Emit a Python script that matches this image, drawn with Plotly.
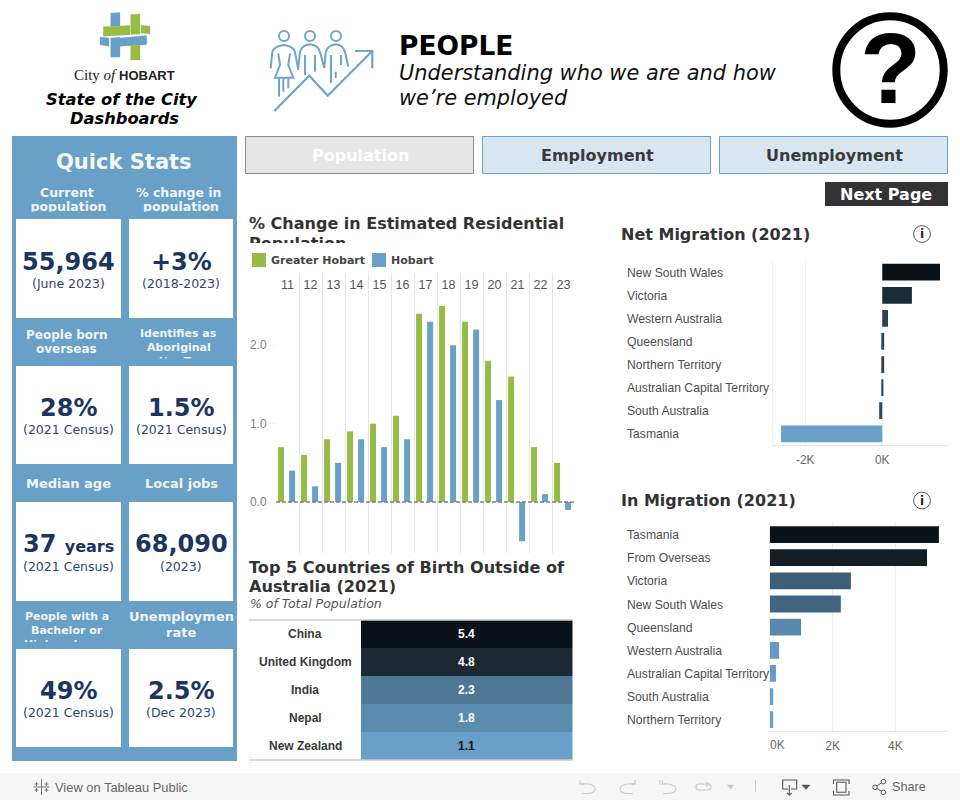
import re
import plotly.graph_objects as go

# ---------- data ----------
years = [11, 12, 13, 14, 15, 16, 17, 18, 19, 20, 21, 22, 23]
greater_hobart = [0.7, 0.6, 0.8, 0.9, 1.0, 1.1, 2.4, 2.5, 2.3, 1.8, 1.6, 0.7, 0.5]
hobart = [0.4, 0.2, 0.5, 0.8, 0.7, 0.8, 2.3, 2.0, 2.2, 1.3, -0.5, 0.1, -0.1]

birth_countries = ["China", "United Kingdom", "India", "Nepal", "New Zealand"]
birth_share = [5.4, 4.8, 2.3, 1.8, 1.1]

net_states = ["New South Wales", "Victoria", "Western Australia", "Queensland", "Northern Territory",
              "Australian Capital Territory", "South Australia", "Tasmania"]
net_values = [1500, 770, 150, 50, 50, 30, -80, -2630]

in_states = ["Tasmania", "From Overseas", "Victoria", "New South Wales", "Queensland", "Western Australia",
             "Australian Capital Territory", "South Australia", "Northern Territory"]
in_values = [5390, 5010, 2580, 2260, 990, 290, 190, 100, 100]

stat_values = ["55,964", "+3%", "28%", "1.5%", "37", "68,090", "49%", "2.5%"]
stat_notes = ["(June 2023)", "(2018-2023)", "(2021 Census)", "(2021 Census)",
              "(2021 Census)", "(2023)", "(2021 Census)", "(Dec 2023)"]

# ---------- style ----------
W, H = 960, 800
BLUE = "#68a0c8"
GREEN = "#96bc45"
DARK = "#0b131a"
NAVY = "#1a3560"
TITLE = "#333333"
DV = "DejaVu Sans"
LS = "Liberation Sans"

shapes = []
ann = []


def px(x):
    return x / W


def py(y):
    return 1 - y / H


def rect(x0, y0, x1, y1, fill=None, line=None, lw=0, layer="below"):
    shapes.append(dict(type="rect", xref="paper", yref="paper", x0=px(x0), x1=px(x1), y0=py(y0), y1=py(y1),
                       fillcolor=fill or "rgba(0,0,0,0)", layer=layer,
                       line=dict(color=line or "rgba(0,0,0,0)", width=lw)))


def circle(cx, cy, r, fill=None, line=None, lw=1, layer="above"):
    shapes.append(dict(type="circle", xref="paper", yref="paper", x0=px(cx - r), x1=px(cx + r),
                       y0=py(cy + r), y1=py(cy - r), layer=layer,
                       fillcolor=fill or "rgba(0,0,0,0)", line=dict(color=line or "rgba(0,0,0,0)", width=lw)))


def path(d, color, lw=1.5, fill=None, layer="above"):
    i = [0]

    def conv(m):
        v = float(m.group(0))
        r = px(v) if i[0] % 2 == 0 else py(v)
        i[0] += 1
        return f"{r:.5f}"

    shapes.append(dict(type="path", xref="paper", yref="paper", path=re.sub(r"-?\d+\.?\d*", conv, d), layer=layer,
                       fillcolor=fill or "rgba(0,0,0,0)", line=dict(color=color, width=lw)))


def text(x, y, s, size, color="#000", font=DV, bold=False, italic=False, anchor="center", **kw):
    """One line of text placed by its pixel position."""
    if bold:
        s = f"<b>{s}</b>"
    if italic:
        s = f"<i>{s}</i>"
    d = dict(xref="paper", yref="paper", x=px(x), y=py(y), text=s, showarrow=False, xanchor=anchor,
             yanchor="middle", borderpad=0, borderwidth=0, font=dict(family=font, size=size, color=color))
    d.update(kw)
    ann.append(d)


def clipped(x_left, width, y_top, height, s, size, color="#fff", align="center"):
    """A line of text cut off by its box, as the source dashboard does."""
    ann.append(dict(xref="paper", yref="paper", x=px(x_left), y=py(y_top), text=f"<b>{s}</b>", showarrow=False,
                    xanchor="left", yanchor="top", width=width, height=height, valign="top", align=align,
                    borderpad=0, borderwidth=0, font=dict(family=DV, size=size, color=color)))


# ---------- header: logo ----------
for d, c in [
    ("M110.7 13 L120 12.5 L120 26 L110.7 26.3 Z", BLUE),
    ("M130.7 14.5 L140 14 L140 34 L130.7 34.5 Z", GREEN),
    ("M103.3 26.8 L130 25.5 L130 34.7 L103.3 36.3 Z", GREEN),
    ("M141 25.3 L150 26.3 L150 34 L141 33 Z", GREEN),
    ("M100 37 L109 38 L109 46.3 L100 44.7 Z", BLUE),
    ("M120 38 L146.7 35.5 L146.7 44.7 L120 46.3 Z", BLUE),
    ("M110.7 38 L120 37.3 L120 57 L110.7 57.3 Z", BLUE),
    ("M130.7 45.5 L140 44.9 L140 60 L130.7 60 Z", GREEN),
]:
    path(d, c, 0.3, fill=c)
ann.append(dict(xref="paper", yref="paper", x=px(124.5), y=py(75), showarrow=False, xanchor="center", yanchor="middle",
                borderpad=0,
                text='<span style="font-family:Liberation Serif;font-size:15px">City</span>'
                     '<span style="font-family:Liberation Serif;font-size:15px"><i> of </i></span>'
                     '<b>HOBART</b>',
                font=dict(family=LS, size=13, color="#222")))
text(121.5, 99.5, "State of the City", 16.3, bold=True, italic=True)
text(124, 118.5, "Dashboards", 16.3, bold=True, italic=True)

# ---------- header: people icon ----------
IC = "#6ea5cb"
for cx in (284, 310, 336):
    circle(cx, 36, 5, line=IC, lw=2)
path("M274.3 111 L309.3 75.7 L327.7 95.7 L372.3 51", IC, 2.2)
path("M355 51 L372.3 51 L372.3 68.3", IC, 2.2)
path("M270.7 68.3 L272.3 52 Q274 46 284 45 Q293 46 295 52 L298.3 70", IC, 2)
path("M278.3 53.3 L280 65 L275 77.7 L293.3 77.7 L288.3 65 L290 53.3", IC, 2)
path("M279 78.3 L279 96.7", IC, 2)
path("M283.3 78.3 L283.3 91.7", IC, 2)
path("M288.3 78.3 L288.3 88.3", IC, 2)
path("M298.3 68 L300 52 Q302 45 310 44.3 Q318 45 320 52 L324.3 68", IC, 2)
path("M305 55 L305 75", IC, 2)
path("M315 55 L315 71.7", IC, 2)
path("M324.3 68 L325.7 52 Q328 45 336 44.3 Q343 45 345 52 L348.3 66.7", IC, 2)
path("M331 55 L331 83", IC, 2)
path("M335.7 71.7 L335.7 78", IC, 2)
path("M341 55 L341 65", IC, 2)

text(398.5, 45, "PEOPLE", 26.5, bold=True, anchor="left")
text(398.5, 73, "Understanding who we are and how", 20.9, color="#111", italic=True, anchor="left")
text(398.5, 98, "we’re employed", 20.9, color="#111", italic=True, anchor="left")

# question mark
circle(890, 70, 53.7, line="#000", lw=8)
text(890, 68, "?", 100, font=LS, bold=True)

# ---------- quick stats ----------
rect(12, 136, 237, 761, fill=BLUE)
cols = [(16, 121), (129, 233)]
rows = [(219, 318), (366, 464), (502, 601), (649, 747)]
for r, (y0, y1) in enumerate(rows):
    for c, (x0, x1) in enumerate(cols):
        rect(x0, y0, x1, y1, fill="#fff")
text(124, 161.7, "Quick Stats", 21, color="#f4f8fb", bold=True)

HC = "#f0f5f9"
text(66.5, 192.7, "Current", 12.5, color=HC, bold=True)
clipped(16, 105, 199, 12.7, "population", 12.5, color=HC)
text(178.5, 192.7, "% change in", 12.5, color=HC, bold=True)
clipped(129, 104, 199, 12.7, "population", 12.5, color=HC)
text(66.5, 335, "People born", 12, color=HC, bold=True)
text(66.5, 349, "overseas", 12, color=HC, bold=True)
text(178.5, 333, "Identifies as", 11, color=HC, bold=True)
text(178.5, 347, "Aboriginal", 11, color=HC, bold=True)
clipped(129, 104, 355, 3.5, "and/or Torres", 11, color=HC)
text(67, 616, "People with a", 11, color=HC, bold=True)
text(67, 630, "Bachelor or", 11, color=HC, bold=True)
clipped(16, 105, 638, 4, "Higher degree", 11, color=HC)
text(68.5, 483.3, "Median age", 13, color=HC, bold=True)
text(181, 483.3, "Local jobs", 13, color=HC, bold=True)
clipped(129, 104.5, 609, 18, "Unemployment", 13, color=HC, align="left")
text(181, 632, "rate", 13, color=HC, bold=True)

value_y = [261.7, 407.7, 544, 690.7]
note_y = [283, 429, 566, 712]
for i, (v, n) in enumerate(zip(stat_values, stat_notes)):
    r, c = i // 2, i % 2
    cx = 68.5 if c == 0 else 181
    if v == "37":
        v = '37 <span style="font-size:16px">years</span>'
    text(cx, value_y[r], v, 24, color=NAVY, bold=True)
    text(cx, note_y[r], n, 12.5, color="#2c4770")

# ---------- buttons ----------
rect(245.5, 136.5, 473.5, 173.5, fill="#e6e6e6", line="#8c8c8c", lw=1)
rect(482.5, 136.5, 710.5, 173.5, fill="#d7e6f1", line=BLUE, lw=1)
rect(719.5, 136.5, 947.5, 173.5, fill="#d7e6f1", line=BLUE, lw=1)
text(360, 155.5, "Population", 16, color="#fff", bold=True)
text(597, 155.5, "Employment", 16, color="#3a3a3a", bold=True)
text(834, 155.5, "Unemployment", 16, color="#3a3a3a", bold=True)
rect(825, 182, 948, 206, fill="#333333")
text(886, 194.5, "Next Page", 16, color="#fff", bold=True)

# ---------- section titles ----------
text(249, 223, "% Change in Estimated Residential", 16, color=TITLE, bold=True, anchor="left")
clipped(249, 330, 234, 9, "Population", 16, color=TITLE, align="left")
text(621, 234, "Net Migration (2021)", 16, color=TITLE, bold=True, anchor="left")
text(621, 500.5, "In Migration (2021)", 16, color=TITLE, bold=True, anchor="left")
text(249, 567, "Top 5 Countries of Birth Outside of", 16.1, color=TITLE, bold=True, anchor="left")
text(249, 586, "Australia (2021)", 16.1, color=TITLE, bold=True, anchor="left")
text(249.5, 603.5, "% of Total Population", 12.5, color="#555", italic=True, anchor="left")

for cy in (234, 500.5):
    circle(922, cy, 8.4, line="#555", lw=1)
    text(922, cy, "i", 12, color="#222", bold=True)

# ---------- column chart legend ----------
rect(252, 253, 266, 267, fill=GREEN)
text(271, 260.5, "Greater Hobart", 11, color="#444", bold=True, anchor="left")
rect(372, 253, 386, 267, fill=BLUE)
text(391, 260.5, "Hobart", 11, color="#444", bold=True, anchor="left")

# ---------- traces ----------
fig = go.Figure()

# column chart
BAR_W, GREEN_OFF, BLUE_OFF = 0.26, -0.41, 0.07
fig.add_trace(go.Bar(x=years, y=greater_hobart, name="Greater Hobart", marker=dict(color=GREEN, line_width=0),
                     width=BAR_W, offset=GREEN_OFF, xaxis="x", yaxis="y", showlegend=False))
fig.add_trace(go.Bar(x=years, y=hobart, name="Hobart", marker=dict(color=BLUE, line_width=0),
                     width=BAR_W, offset=BLUE_OFF, xaxis="x", yaxis="y", showlegend=False))

# net migration
scale = [[0, BLUE], [1, DARK]]
fig.add_trace(go.Bar(x=net_values, y=net_states, orientation="h", xaxis="x2", yaxis="y2", showlegend=False,
                     width=0.725, marker=dict(color=net_values, colorscale=scale, line_width=0, showscale=False)))

# in migration
fig.add_trace(go.Bar(x=in_values, y=in_states, orientation="h", xaxis="x3", yaxis="y3", showlegend=False,
                     width=0.725, marker=dict(color=in_values, colorscale=scale, line_width=0, showscale=False)))

# top five table
lo, hi = min(birth_share), max(birth_share)
heat_scale = [[(v - lo) / (hi - lo), c] for v, c in
              zip(sorted(birth_share), ["#69a0c9", "#5a8cae", "#4e7895", "#1d2a35", "#0b131a"])]
fig.add_trace(go.Heatmap(z=[[v] for v in birth_share], x=["share"], y=birth_countries, xaxis="x4", yaxis="y4",
                         colorscale=heat_scale, showscale=False, xgap=0, ygap=0))
for c, v in zip(birth_countries, birth_share):
    ann.append(dict(xref="x4", yref="y4", x="share", y=c, text=f"<b>{v}</b>", showarrow=False,
                    font=dict(family=LS, size=12, color="#fff" if v > 1.5 else "#111")))
    ann.append(dict(xref="paper", yref="y4", x=px(305), y=c, text=f"<b>{c}</b>", showarrow=False, xanchor="center",
                    font=dict(family=LS, size=12, color="#3a3a3a")))
for yy in (620, 760):
    path(f"M249 {yy} L573 {yy}", "#cccccc", 1.6)

# category labels
for s in net_states:
    ann.append(dict(xref="paper", yref="y2", x=px(627), y=s, text=s, showarrow=False, xanchor="left", borderpad=0,
                    borderwidth=0, yshift=-0.5, font=dict(family=LS, size=12.15, color="#4d4d4d")))
for s in in_states:
    ann.append(dict(xref="paper", yref="y3", x=px(627), y=s, text=s, showarrow=False, xanchor="left", borderpad=0,
                    borderwidth=0, yshift=-0.5, font=dict(family=LS, size=12.15, color="#4d4d4d")))

# zero dashes / dotted rule
shapes.append(dict(type="line", xref="x", yref="y", x0=min(years) - 0.5, x1=max(years) + 0.5, y0=0, y1=0,
                   layer="above", line=dict(color="#808080", width=1.6, dash="4px,2px")))
shapes.append(dict(type="line", xref="x2", yref="y2", x0=0, x1=0, y0=7.5, y1=-0.5, layer="below",
                   line=dict(color="#b5b5b5", width=1, dash="1px,2px")))
text(777.7, 745, "0K", 12, color="#666", font=LS)

# ---------- toolbar ----------
rect(0, 773, 960, 800, fill="#f6f6f6")
text(55, 787, "View on Tableau Public", 12.9, color="#666", font=LS, anchor="left")
text(909, 786.7, "Share", 12.7, color="#666", font=LS)
TG = "#777777"
for d in ["M41.5 779 L41.5 795", "M33.5 787 L49.5 787", "M36.5 782 L36.5 786", "M46.5 782 L46.5 786",
          "M36.5 788 L36.5 792", "M46.5 788 L46.5 792", "M34.5 784 L38.5 784", "M44.5 784 L48.5 784",
          "M34.5 790 L38.5 790", "M44.5 790 L48.5 790"]:
    path(d, TG, 1)
LG = "#c8c8c8"
path("M580 784 L588 784 Q595 785 595 789 Q595 793 588 793.5 L582 793.5", LG, 1.1)
path("M580 780 L580 784 L584 784", LG, 1.1)
path("M635 784 L627 784 Q620 785 620 789 Q620 793 627 793.5 L633 793.5", LG, 1.1)
path("M635 780 L635 784 L631 784", LG, 1.1)
path("M664 784 L668 784 Q676 785 676 789 Q676 793 668 793.5 L663 793.5", LG, 1.1)
path("M660 780 L660 785", LG, 1.1)
path("M662.5 780 L662.5 784 L666 784", LG, 1.1)
path("M707 784 L699 784 Q696 784 696 787 Q696 790 699 790 L707 790 Q711 790 711 787 Q711 784 708 784", LG, 1.1)
path("M706 782 L709 784 L706 786", LG, 1.1)
path("M727 785 L734 785 L730.5 789 Z", LG, 0.5, fill=LG)
path("M755.5 780 L755.5 792", "#cccccc", 1)
DG = "#555555"
path("M788 789 L782.7 789 L782.7 780 L796.7 780 L796.7 789 L791 789", DG, 1.1)
path("M789.3 785 L789.3 795 M787 793 L789.3 795 L791.6 793", DG, 1.1)
path("M802 785 L810 785 L806 789.5 Z", DG, 0.5, fill=DG)
path("M833.5 784 L833.5 780 L849 780 L849 784 M833.5 791 L833.5 795 L849 795 L849 791", DG, 1.1)
path("M836.7 782.3 L846 782.3 L846 792.3 L836.7 792.3 Z", DG, 1.1)
circle(875, 787.3, 2.3, line=DG, lw=1)
circle(883.3, 781.7, 2.3, line=DG, lw=1)
circle(883.3, 792.3, 2.3, line=DG, lw=1)
path("M877 786 L881.3 783 M877 788.5 L881.3 791", DG, 1)


# ---------- layout ----------
def dom_x(a, b):
    return [a / W, b / W]


def dom_y(top, bottom):
    return [1 - bottom / H, 1 - top / H]


GRID = "#e6e6e6"
SOFT = "#f0f0f0"
fig.update_layout(
    width=W, height=H, autosize=False, margin=dict(l=0, r=0, t=0, b=0), paper_bgcolor="#fff", plot_bgcolor="rgba(0,0,0,0)",
    barmode="overlay", showlegend=False, shapes=shapes, annotations=ann,
    font=dict(family=LS, color="#666"),
    xaxis=dict(domain=dom_x(276, 575), range=[min(years) - 0.5, max(years) + 0.5], anchor="y", side="top",
               tickvals=years, ticklabelposition="inside", ticklabelstandoff=4, ticks="", showgrid=False,
               zeroline=False, fixedrange=True, tickfont=dict(family=LS, size=12.5, color="#555"),
               minor=dict(tickvals=[y - 0.5 for y in years] + [max(years) + 0.5], showgrid=True,
                          gridcolor=GRID, gridwidth=1, ticks="")),
    yaxis=dict(domain=dom_y(273, 553), range=[-0.65, 2.92], anchor="x", tickvals=[0, 1, 2], tickformat=".1f",
               ticks="outside", ticklen=6, tickcolor="#eeeeee", showgrid=False, zeroline=False, showline=False,
               fixedrange=True, tickfont=dict(family=LS, size=12, color="#808080")),
    xaxis2=dict(domain=dom_x(773.3, 947.7), range=[-2830, 1700], anchor="y2", tickvals=[-2000, 0],
                ticktext=["-2K", "0K"], showgrid=True, gridcolor=SOFT, zeroline=False, showline=True, linecolor=GRID,
                ticks="", ticklabelstandoff=3, fixedrange=True, tickfont=dict(family=LS, size=12, color="#666")),
    yaxis2=dict(domain=dom_y(260.7, 445.3), type="category", categoryorder="array", categoryarray=net_states,
                range=[7.5, -0.5], anchor="x2", showticklabels=False, ticks="", showgrid=False, zeroline=False,
                showline=True, linecolor=SOFT, fixedrange=True),
    xaxis3=dict(domain=dom_x(770, 947.7), range=[0, 5670], anchor="y3", tickvals=[2000, 4000],
                ticktext=["2K", "4K"], showgrid=True, gridcolor=SOFT, zeroline=False, showline=True, linecolor=GRID,
                ticks="", ticklabelstandoff=3, fixedrange=True, tickfont=dict(family=LS, size=12, color="#666")),
    yaxis3=dict(domain=dom_y(523, 731.3), type="category", categoryorder="array", categoryarray=in_states,
                range=[8.5, -0.5], anchor="x3", showticklabels=False, ticks="", showgrid=False, zeroline=False,
                showline=True, linecolor=SOFT, fixedrange=True),
    xaxis4=dict(domain=dom_x(361, 572.5), anchor="y4", visible=False, fixedrange=True),
    yaxis4=dict(domain=dom_y(620, 760), type="category", categoryorder="array", categoryarray=birth_countries,
                range=[4.5, -0.5], anchor="x4", visible=False, fixedrange=True),
)

fig.write_html("out.html", config={"displayModeBar": False},
               post_script="document.body.style.margin='0';document.documentElement.style.overflow='hidden';")
